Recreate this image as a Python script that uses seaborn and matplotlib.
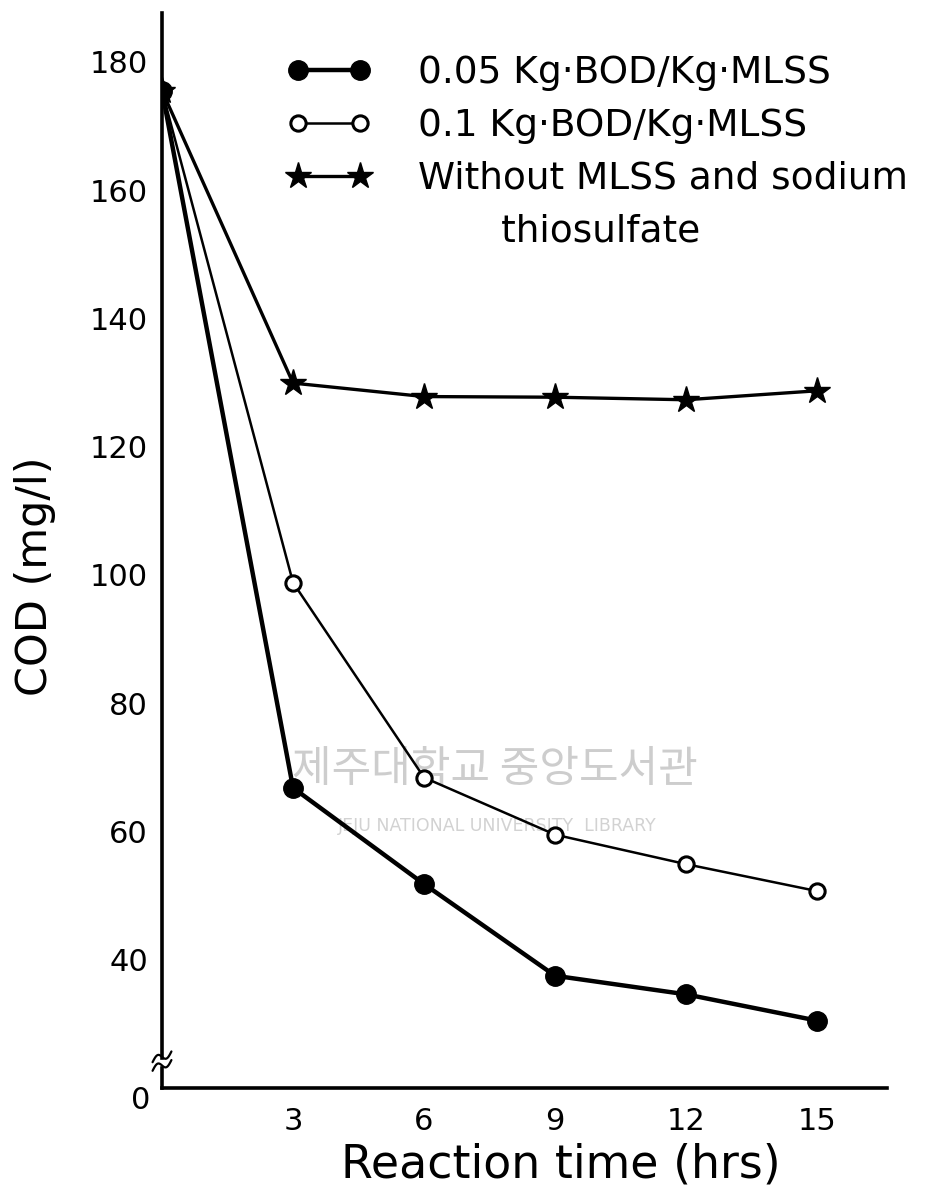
import matplotlib
matplotlib.use("Agg")
import matplotlib.pyplot as plt
from matplotlib.lines import Line2D
import numpy as np
import seaborn as sns

# ---- data ----
hours = [0, 3, 6, 9, 12, 15]
cod_005 = [175.5, 66.8, 51.8, 37.5, 34.6, 30.5]
cod_01 = [175.5, 98.8, 68.4, 59.5, 54.9, 50.7]
cod_without = [175.5, 129.9, 127.8, 127.7, 127.3, 128.7]
series_labels = ["0.05 Kg·BOD/Kg·MLSS", "0.1 Kg·BOD/Kg·MLSS",
                 "Without MLSS and sodium", "       thiosulfate"]
xticks = [3, 6, 9, 12, 15]
yticks = [40, 60, 80, 100, 120, 140, 160, 180]
x_label = "Reaction time (hrs)"
y_label = "COD (mg/l)"
wm_kr = "제주대학교 중앙도서관"
wm_en = "JEJU NATIONAL UNIVERSITY  LIBRARY"

sns.set_style("white")
plt.rcParams["font.family"] = ["DejaVu Sans", "Noto Sans CJK KR"]
plt.rcParams["text.color"] = "black"
plt.rcParams["axes.labelcolor"] = "black"
plt.rcParams["xtick.color"] = "black"
plt.rcParams["ytick.color"] = "black"

W, H = 938, 1201
fig = plt.figure(figsize=(W / 100, H / 100), dpi=100)
ax = fig.add_axes([162 / W, 113 / H, 725 / W, 1075 / H])

sns.lineplot(x=hours, y=cod_without, ax=ax, color="black", lw=2.4,
             marker="*", markersize=20, markerfacecolor="black",
             markeredgecolor="black", markeredgewidth=1,
             label=series_labels[2], zorder=3)
sns.lineplot(x=hours, y=cod_01, ax=ax, color="black", lw=1.8,
             marker="o", markersize=11, markerfacecolor="white",
             markeredgecolor="black", markeredgewidth=2.2,
             label=series_labels[1], zorder=4)
sns.lineplot(x=hours, y=cod_005, ax=ax, color="black", lw=3.2,
             marker="o", markersize=14, markerfacecolor="black",
             markeredgecolor="black", markeredgewidth=1,
             label=series_labels[0], zorder=5)

ax.set_xlim(0, 16.6)
ax.set_ylim(20, 187.6)
ax.set_xticks(xticks)
ax.set_yticks(yticks)
ax.tick_params(direction="in", length=9, width=2.5, labelsize=22,
               colors="black")
ax.tick_params(axis="x", pad=14)
ax.tick_params(axis="y", pad=10)
for s in ["top", "right"]:
    ax.spines[s].set_visible(False)
for s in ["left", "bottom"]:
    ax.spines[s].set_linewidth(2.6)
    ax.spines[s].set_color("black")

ax.set_xlabel(x_label, fontsize=33, color="black")
ax.xaxis.set_label_coords((561 - 162) / 725, (1088 - 1142) / 1075)
ax.set_ylabel(y_label, fontsize=31, va="center", color="black")
ax.yaxis.set_label_coords((35 - 162) / 725, (1088 - 576) / 1075)

# "0" at the broken origin
ax.text(-0.030, -0.012, "0", transform=ax.transAxes, ha="center",
        va="center", fontsize=22, color="black")
# axis break mark
t = np.linspace(0, 1, 30)
for dy in (0.0, 0.008):
    bx = -0.013 + 0.026 * t
    by = 0.016 + dy + 0.010 * t + 0.004 * np.sin(2 * np.pi * t)
    ax.plot(bx, by, transform=ax.transAxes, color="black", lw=1.6,
            clip_on=False, zorder=6)
ax.fill_between([-0.004, 0.004], [0.021, 0.021], [0.026, 0.026],
                transform=ax.transAxes, color="white", zorder=5.5,
                clip_on=False)

# legend
handles, labs = ax.get_legend_handles_labels()
order = [labs.index(series_labels[0]), labs.index(series_labels[1]),
         labs.index(series_labels[2])]
hs = [handles[i] for i in order] + [Line2D([], [], linestyle="none")]
leg = ax.legend(hs, series_labels, loc="upper left",
                bbox_to_anchor=(287 / W, 1 - 55 / H),
                bbox_transform=fig.transFigure, frameon=False,
                numpoints=2, handlelength=2.25, handletextpad=1.25,
                labelspacing=0.45, borderpad=0, borderaxespad=0,
                fontsize=27, labelcolor="black")

# library watermark
ax.text(495 / W, 1 - 770 / H, wm_kr, transform=fig.transFigure,
        ha="center", va="center", fontsize=31, color="#cdcdcd",
        family=["Noto Sans CJK KR", "DejaVu Sans"], zorder=0.5)
ax.text(497 / W, 1 - 826 / H, wm_en, transform=fig.transFigure,
        ha="center", va="center", fontsize=12.5, color="#d2d2d2",
        zorder=0.5)

fig.savefig("out.png", dpi=100, facecolor="white")
